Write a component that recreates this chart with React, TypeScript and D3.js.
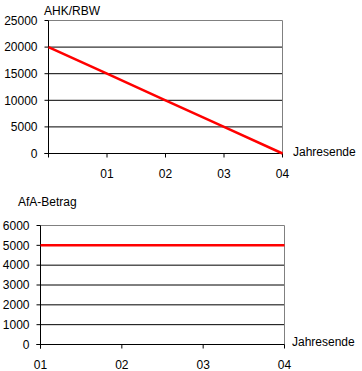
import React from "react";
import * as d3 from "d3";

const topX = [0, 1, 2, 3, 4];
const topXLabels = ["01", "02", "03", "04"];
const topValues = [20000, 15000, 10000, 5000, 0];
const topYTicks = [0, 5000, 10000, 15000, 20000, 25000];

const bottomX = [1, 2, 3, 4];
const bottomXLabels = ["01", "02", "03", "04"];
const bottomValues = [5000, 5000, 5000, 5000];
const bottomYTicks = [0, 1000, 2000, 3000, 4000, 5000, 6000];

const FONT = "'Liberation Sans', Arial, sans-serif";

type PanelProps = {
  xDomain: [number, number];
  xRange: [number, number];
  yDomain: [number, number];
  yRange: [number, number];
  xs: number[];
  values: number[];
  yTicks: number[];
  xTickPositions: number[];
  xTickLabels: string[];
  title: string;
  titleX: number;
  titleY: number;
  xTitleX: number;
  xTitleY: number;
};

function Panel(p: PanelProps) {
  const x = d3.scaleLinear().domain(p.xDomain).range(p.xRange);
  const y = d3.scaleLinear().domain(p.yDomain).range(p.yRange);
  const line = d3
    .line<number>()
    .x((_, i) => x(p.xs[i]))
    .y((d) => y(d));
  const x0 = p.xRange[0];
  const x1 = p.xRange[1];
  const yBottom = p.yRange[0];
  const yTop = p.yRange[1];
  const maxTick = p.yTicks[p.yTicks.length - 1];
  return (
    <g>
      {p.yTicks.map((t) =>
        t === 0 ? null : (
          <line
            key={"g" + t}
            x1={x0}
            x2={x1}
            y1={y(t)}
            y2={y(t)}
            stroke={t === maxTick ? "#808080" : "#000"}
            strokeWidth={1}
          />
        )
      )}
      <line x1={x1} x2={x1} y1={yTop} y2={yBottom} stroke="#808080" />
      <line x1={x0} x2={x0} y1={yTop} y2={yBottom + 4} stroke="#000" />
      <line x1={x0 - 4} x2={x1} y1={yBottom} y2={yBottom} stroke="#000" />
      {p.yTicks.map((t) => (
        <g key={"yt" + t}>
          <line x1={x0 - 4} x2={x0} y1={y(t)} y2={y(t)} stroke="#000" />
          <text
            x={x0 - 11}
            y={y(t)}
            dy="0.35em"
            textAnchor="end"
            fontSize={12}
            fontFamily={FONT}
            fill="#000"
          >
            {t}
          </text>
        </g>
      ))}
      {p.xTickPositions.map((v, i) => (
        <g key={"xt" + i}>
          <line x1={x(v)} x2={x(v)} y1={yBottom} y2={yBottom + 4} stroke="#000" />
          <text
            x={x(v)}
            y={yBottom + 24.5}
            textAnchor="middle"
            fontSize={12}
            fontFamily={FONT}
            fill="#000"
          >
            {p.xTickLabels[i]}
          </text>
        </g>
      ))}
      <path d={line(p.values) || ""} fill="none" stroke="#ff0000" strokeWidth={2.5} />
      <text x={p.titleX} y={p.titleY} fontSize={12} fontFamily={FONT} fill="#000">
        {p.title}
      </text>
      <text x={p.xTitleX} y={p.xTitleY} fontSize={12} fontFamily={FONT} fill="#000">
        Jahresende
      </text>
    </g>
  );
}

export default function App() {
  return (
    <svg
      width={362}
      height={371}
      style={{ position: "absolute", left: 0, top: 0, background: "#fff" }}
    >
      <rect width={362} height={371} fill="#fff" />
      <Panel
        xDomain={[0, 4]}
        xRange={[48.5, 282.5]}
        yDomain={[0, 25000]}
        yRange={[153.5, 20.5]}
        xs={topX}
        values={topValues}
        yTicks={topYTicks}
        xTickPositions={[1, 2, 3, 4]}
        xTickLabels={topXLabels}
        title="AHK/RBW"
        titleX={44}
        titleY={15}
        xTitleX={293}
        xTitleY={156}
      />
      <Panel
        xDomain={[1, 4]}
        xRange={[40.5, 284.5]}
        yDomain={[0, 6000]}
        yRange={[344.5, 225.5]}
        xs={bottomX}
        values={bottomValues}
        yTicks={bottomYTicks}
        xTickPositions={[1, 2, 3, 4]}
        xTickLabels={bottomXLabels}
        title="AfA-Betrag"
        titleX={18}
        titleY={206}
        xTitleX={292}
        xTitleY={346}
      />
    </svg>
  );
}
